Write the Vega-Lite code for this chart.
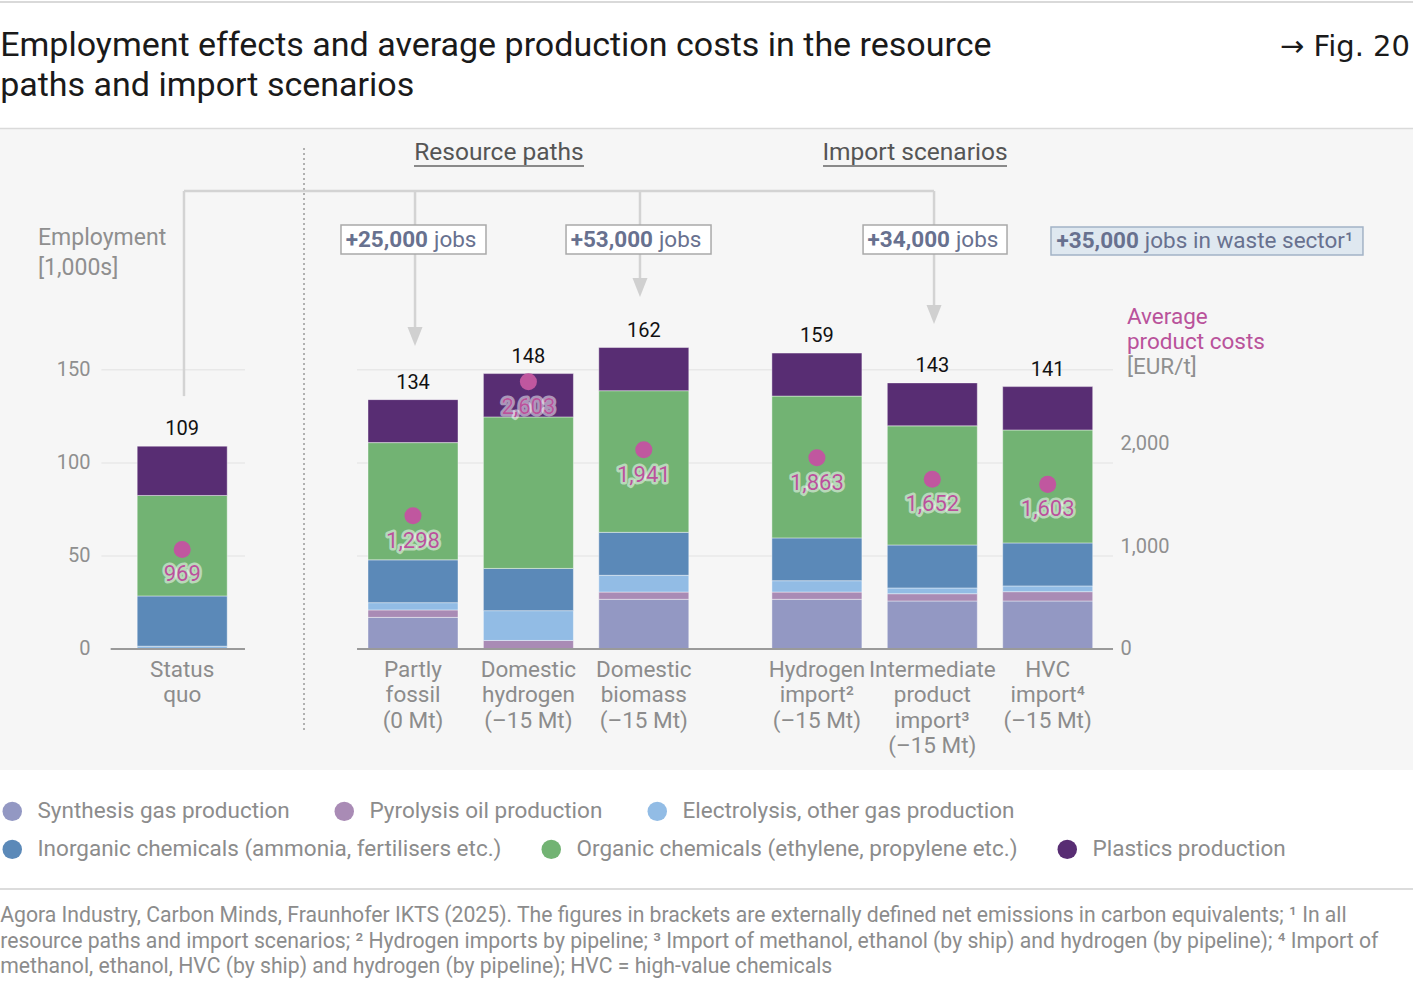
{
  "$schema": "https://vega.github.io/schema/vega-lite/v6.json",
  "width": 1413,
  "height": 642,
  "autosize": {"type": "none"},
  "padding": {"top": 128, "left": 0, "right": 0, "bottom": 217},
  "background": "#ffffff",
  "config": {
    "font": "Roboto",
    "view": {"fill": "#f6f6f6", "stroke": null},
    "text": {"font": "Roboto"}
  },
  "data": {"values": [{}]},
  "datasets": {
    "jobs": [
      {"scenario": "Status quo", "component": "Electrolysis, other gas production", "value": 1.5},
      {"scenario": "Status quo", "component": "Inorganic chemicals (ammonia, fertilisers etc.)", "value": 27},
      {"scenario": "Status quo", "component": "Organic chemicals (ethylene, propylene etc.)", "value": 54},
      {"scenario": "Status quo", "component": "Plastics production", "value": 26.5},
      {"scenario": "Partly fossil", "component": "Synthesis gas production", "value": 17},
      {"scenario": "Partly fossil", "component": "Pyrolysis oil production", "value": 4},
      {"scenario": "Partly fossil", "component": "Electrolysis, other gas production", "value": 3.9},
      {"scenario": "Partly fossil", "component": "Inorganic chemicals (ammonia, fertilisers etc.)", "value": 23},
      {"scenario": "Partly fossil", "component": "Organic chemicals (ethylene, propylene etc.)", "value": 63},
      {"scenario": "Partly fossil", "component": "Plastics production", "value": 23.1},
      {"scenario": "Domestic hydrogen", "component": "Pyrolysis oil production", "value": 4.6},
      {"scenario": "Domestic hydrogen", "component": "Electrolysis, other gas production", "value": 16},
      {"scenario": "Domestic hydrogen", "component": "Inorganic chemicals (ammonia, fertilisers etc.)", "value": 22.7},
      {"scenario": "Domestic hydrogen", "component": "Organic chemicals (ethylene, propylene etc.)", "value": 81.4},
      {"scenario": "Domestic hydrogen", "component": "Plastics production", "value": 23.3},
      {"scenario": "Domestic biomass", "component": "Synthesis gas production", "value": 26.7},
      {"scenario": "Domestic biomass", "component": "Pyrolysis oil production", "value": 3.9},
      {"scenario": "Domestic biomass", "component": "Electrolysis, other gas production", "value": 9},
      {"scenario": "Domestic biomass", "component": "Inorganic chemicals (ammonia, fertilisers etc.)", "value": 23.1},
      {"scenario": "Domestic biomass", "component": "Organic chemicals (ethylene, propylene etc.)", "value": 76.1},
      {"scenario": "Domestic biomass", "component": "Plastics production", "value": 23.2},
      {"scenario": "Hydrogen import", "component": "Synthesis gas production", "value": 26.7},
      {"scenario": "Hydrogen import", "component": "Pyrolysis oil production", "value": 3.9},
      {"scenario": "Hydrogen import", "component": "Electrolysis, other gas production", "value": 6.1},
      {"scenario": "Hydrogen import", "component": "Inorganic chemicals (ammonia, fertilisers etc.)", "value": 23},
      {"scenario": "Hydrogen import", "component": "Organic chemicals (ethylene, propylene etc.)", "value": 76.2},
      {"scenario": "Hydrogen import", "component": "Plastics production", "value": 23.1},
      {"scenario": "Intermediate product import", "component": "Synthesis gas production", "value": 25.8},
      {"scenario": "Intermediate product import", "component": "Pyrolysis oil production", "value": 3.9},
      {"scenario": "Intermediate product import", "component": "Electrolysis, other gas production", "value": 3.1},
      {"scenario": "Intermediate product import", "component": "Inorganic chemicals (ammonia, fertilisers etc.)", "value": 23.1},
      {"scenario": "Intermediate product import", "component": "Organic chemicals (ethylene, propylene etc.)", "value": 64},
      {"scenario": "Intermediate product import", "component": "Plastics production", "value": 23.1},
      {"scenario": "HVC import", "component": "Synthesis gas production", "value": 25.8},
      {"scenario": "HVC import", "component": "Pyrolysis oil production", "value": 5},
      {"scenario": "HVC import", "component": "Electrolysis, other gas production", "value": 3.1},
      {"scenario": "HVC import", "component": "Inorganic chemicals (ammonia, fertilisers etc.)", "value": 23.1},
      {"scenario": "HVC import", "component": "Organic chemicals (ethylene, propylene etc.)", "value": 60.7},
      {"scenario": "HVC import", "component": "Plastics production", "value": 23.3}
    ],
    "scen": [
      {"scenario": "Status quo", "total": 109, "cost": 969, "label": "Status|quo"},
      {"scenario": "Partly fossil", "total": 134, "cost": 1298, "label": "Partly|fossil|(0 Mt)"},
      {"scenario": "Domestic hydrogen", "total": 148, "cost": 2603, "label": "Domestic|hydrogen|(–15 Mt)"},
      {"scenario": "Domestic biomass", "total": 162, "cost": 1941, "label": "Domestic|biomass|(–15 Mt)"},
      {"scenario": "Hydrogen import", "total": 159, "cost": 1863, "label": "Hydrogen|import²|(–15 Mt)"},
      {"scenario": "Intermediate product import", "total": 143, "cost": 1652, "label": "Intermediate|product|import³|(–15 Mt)"},
      {"scenario": "HVC import", "total": 141, "cost": 1603, "label": "HVC|import⁴|(–15 Mt)"}
    ],
    "levels": [{"v": 50}, {"v": 100}, {"v": 150}]
  },
  "layer": [
    {
      "layer": [
        {
          "data": {"name": "levels"},
          "mark": {"type": "rule", "color": "#e8e8e8", "strokeWidth": 1.5},
          "encoding": {
            "x": {
              "datum": "s-5", "type": "nominal", "bandPosition": 0.1, "axis": null,
              "scale": {
                "type": "band",
                "domain": ["s-6", "s-5", "Status quo", "s-3", "s-2", "s-1", "Partly fossil", "s1", "Domestic hydrogen", "s3", "Domestic biomass", "s5", "s6", "Hydrogen import", "s8", "Intermediate product import", "s10", "HVC import", "s12", "s13", "s14", "s15", "s16"],
                "paddingInner": 0, "paddingOuter": 0.74437, "align": 0.4418, "round": false
              }
            },
            "x2": {"datum": "s-3", "bandPosition": 0.588},
            "y": {
              "field": "v", "type": "quantitative",
              "scale": {"domain": [-65.02, 279.96], "nice": false, "zero": false},
              "axis": {"orient": "left", "offset": -95, "zindex": 1, "values": [0, 50, 100, 150], "domain": false, "ticks": false, "grid": false, "labelPadding": 5, "labelFontSize": 20, "labelColor": "#8f8f8f", "labelFont": "Roboto", "title": null}
            }
          }
        },
        {
          "data": {"name": "levels"},
          "mark": {"type": "rule", "color": "#e8e8e8", "strokeWidth": 1.5},
          "encoding": {
            "y": {"field": "v", "type": "quantitative"},
            "x": {"datum": "s-1", "type": "nominal", "bandPosition": 0.53, "axis": null},
            "x2": {"datum": "s12", "bandPosition": 0.632}
          }
        },
        {"mark": {"type": "rule", "color": "#cccccc", "strokeWidth": 1.5}, "encoding": {"y": {"datum": 347.7, "type": "quantitative"}}},
        {"mark": {"type": "rule", "color": "#dadada", "strokeWidth": 1.5}, "encoding": {"y": {"datum": 279.7, "type": "quantitative"}}},
        {"mark": {"type": "rule", "color": "#d0d0d0", "strokeWidth": 1.5}, "encoding": {"y": {"datum": -129, "type": "quantitative"}}},
        {
          "mark": {"type": "rule", "color": "#9a9a9a", "strokeWidth": 1.5, "strokeDash": [2, 3]},
          "encoding": {
            "x": {"datum": "s-2", "type": "nominal", "bandPosition": 0.611, "axis": null},
            "y": {"datum": 269.2, "type": "quantitative"},
            "y2": {"datum": -43.5}
          }
        },
        {
          "mark": {"type": "rule", "color": "#d3d3d3", "strokeWidth": 2.5},
          "encoding": {
            "y": {"datum": 246.1, "type": "quantitative"},
            "x": {"datum": "Status quo", "type": "nominal", "bandPosition": 0.531, "axis": null},
            "x2": {"datum": "Intermediate product import", "bandPosition": 0.53}
          }
        },
        {
          "mark": {"type": "rule", "color": "#d3d3d3", "strokeWidth": 2.5},
          "encoding": {
            "x": {"datum": "Status quo", "type": "nominal", "bandPosition": 0.531, "axis": null},
            "y": {"datum": 246.1, "type": "quantitative"},
            "y2": {"datum": 135.9}
          }
        },
        {
          "mark": {"type": "rule", "color": "#d3d3d3", "strokeWidth": 2.5},
          "encoding": {
            "x": {"datum": "Partly fossil", "type": "nominal", "bandPosition": 0.535, "axis": null},
            "y": {"datum": 246.1, "type": "quantitative"},
            "y2": {"datum": 172}
          }
        },
        {
          "mark": {"type": "rule", "color": "#d3d3d3", "strokeWidth": 2.5},
          "encoding": {
            "x": {"datum": "Domestic biomass", "type": "nominal", "bandPosition": 0.434, "axis": null},
            "y": {"datum": 246.1, "type": "quantitative"},
            "y2": {"datum": 198.5}
          }
        },
        {
          "mark": {"type": "rule", "color": "#d3d3d3", "strokeWidth": 2.5},
          "encoding": {
            "x": {"datum": "Intermediate product import", "type": "nominal", "bandPosition": 0.53, "axis": null},
            "y": {"datum": 246.1, "type": "quantitative"},
            "y2": {"datum": 184}
          }
        },
        {
          "mark": {"type": "point", "shape": "M-0.79,-1L0.79,-1L0,1Z", "size": 361, "filled": true, "color": "#d0d0d0", "opacity": 1},
          "encoding": {
            "x": {"datum": "Partly fossil", "type": "nominal", "bandPosition": 0.535, "axis": null},
            "y": {"datum": 167.9, "type": "quantitative"}
          }
        },
        {
          "mark": {"type": "point", "shape": "M-0.79,-1L0.79,-1L0,1Z", "size": 361, "filled": true, "color": "#d0d0d0", "opacity": 1},
          "encoding": {
            "x": {"datum": "Domestic biomass", "type": "nominal", "bandPosition": 0.434, "axis": null},
            "y": {"datum": 194.3, "type": "quantitative"}
          }
        },
        {
          "mark": {"type": "point", "shape": "M-0.79,-1L0.79,-1L0,1Z", "size": 361, "filled": true, "color": "#d0d0d0", "opacity": 1},
          "encoding": {
            "x": {"datum": "Intermediate product import", "type": "nominal", "bandPosition": 0.53, "axis": null},
            "y": {"datum": 179.7, "type": "quantitative"}
          }
        },
        {
          "mark": {"type": "rect", "fill": "#ffffff", "stroke": "#a9a9a9", "strokeWidth": 1.5},
          "encoding": {
            "x": {"datum": "s-1", "type": "nominal", "bandPosition": 0.252, "axis": null},
            "x2": {"datum": "s1", "bandPosition": 0.765},
            "y": {"datum": 227.8, "type": "quantitative"},
            "y2": {"datum": 212.3}
          }
        },
        {
          "mark": {"type": "rect", "fill": "#ffffff", "stroke": "#a9a9a9", "strokeWidth": 1.5},
          "encoding": {
            "x": {"datum": "s3", "type": "nominal", "bandPosition": 0.152, "axis": null},
            "x2": {"datum": "s5", "bandPosition": 0.665},
            "y": {"datum": 227.8, "type": "quantitative"},
            "y2": {"datum": 212.3}
          }
        },
        {
          "mark": {"type": "rect", "fill": "#ffffff", "stroke": "#a9a9a9", "strokeWidth": 1.5},
          "encoding": {
            "x": {"datum": "s8", "type": "nominal", "bandPosition": 0.30, "axis": null},
            "x2": {"datum": "s10", "bandPosition": 0.795},
            "y": {"datum": 227.8, "type": "quantitative"},
            "y2": {"datum": 212.3}
          }
        },
        {
          "mark": {"type": "rect", "fill": "#dfe8f0", "stroke": "#a3b3c6", "strokeWidth": 1.5},
          "encoding": {
            "x": {"datum": "HVC import", "type": "nominal", "bandPosition": 0.557, "axis": null},
            "x2": {"datum": "s16", "bandPosition": 0.964},
            "y": {"datum": 226.8, "type": "quantitative"},
            "y2": {"datum": 211.7}
          }
        },
        {
          "data": {"name": "jobs"},
          "transform": [
            {"calculate": "indexof(['Synthesis gas production','Pyrolysis oil production','Electrolysis, other gas production','Inorganic chemicals (ammonia, fertilisers etc.)','Organic chemicals (ethylene, propylene etc.)','Plastics production'], datum.component)", "as": "ord"},
            {"stack": "value", "groupby": ["scenario"], "sort": [{"field": "ord", "order": "ascending"}], "as": ["y0", "y1"]},
            {"filter": "datum.ord < 3"}
          ],
          "mark": {"type": "bar", "width": {"band": 1.56}, "stroke": "#ffffff", "strokeWidth": 0.6, "strokeOpacity": 0.7},
          "encoding": {
            "x": {"field": "scenario", "type": "nominal", "axis": null},
            "y": {"field": "y0", "type": "quantitative"},
            "y2": {"field": "y1"},
            "fill": {
              "field": "component", "type": "nominal",
              "scale": {
                "domain": ["Synthesis gas production", "Pyrolysis oil production", "Electrolysis, other gas production"],
                "range": ["#9398c3", "#a98bb5", "#92bce5"]
              },
              "legend": {"orient": "none", "legendX": 1, "legendY": 672, "direction": "horizontal", "symbolType": "circle", "symbolSize": 380, "symbolStrokeWidth": 0, "labelFontSize": 22.5, "labelFont": "Roboto", "labelColor": "#8c8c8c", "labelOffset": 14, "columnPadding": 43, "title": null, "labelLimit": 700, "padding": 0}
            }
          }
        },
        {
          "data": {"name": "jobs"},
          "transform": [
            {"calculate": "indexof(['Synthesis gas production','Pyrolysis oil production','Electrolysis, other gas production','Inorganic chemicals (ammonia, fertilisers etc.)','Organic chemicals (ethylene, propylene etc.)','Plastics production'], datum.component)", "as": "ord"},
            {"stack": "value", "groupby": ["scenario"], "sort": [{"field": "ord", "order": "ascending"}], "as": ["y0", "y1"]},
            {"filter": "datum.ord >= 3"}
          ],
          "mark": {"type": "bar", "width": {"band": 1.56}, "stroke": "#ffffff", "strokeWidth": 0.6, "strokeOpacity": 0.7},
          "encoding": {
            "x": {"field": "scenario", "type": "nominal", "axis": null},
            "y": {"field": "y0", "type": "quantitative"},
            "y2": {"field": "y1"},
            "color": {
              "field": "component", "type": "nominal",
              "scale": {
                "domain": ["Inorganic chemicals (ammonia, fertilisers etc.)", "Organic chemicals (ethylene, propylene etc.)", "Plastics production"],
                "range": ["#5b89b8", "#72b373", "#582d73"]
              },
              "legend": {"orient": "none", "legendX": 1, "legendY": 710, "direction": "horizontal", "symbolType": "circle", "symbolSize": 380, "symbolStrokeWidth": 0, "labelFontSize": 22.5, "labelFont": "Roboto", "labelColor": "#8c8c8c", "labelOffset": 14, "columnPadding": 38, "title": null, "labelLimit": 700, "padding": 0}
            }
          }
        },
        {
          "mark": {"type": "rule", "color": "#9a9a9a", "strokeWidth": 2},
          "encoding": {
            "y": {"datum": 0, "type": "quantitative"},
            "x": {"datum": "s-5", "type": "nominal", "bandPosition": 0.26, "axis": null},
            "x2": {"datum": "s-3", "bandPosition": 0.588}
          }
        },
        {
          "mark": {"type": "rule", "color": "#9a9a9a", "strokeWidth": 2},
          "encoding": {
            "y": {"datum": 0, "type": "quantitative"},
            "x": {"datum": "s-1", "type": "nominal", "bandPosition": 0.53, "axis": null},
            "x2": {"datum": "s12", "bandPosition": 0.632}
          }
        },
        {
          "mark": {"type": "text", "text": "+25,000", "fontWeight": "bold", "fontSize": 22.5, "color": "#68718f", "align": "right", "baseline": "middle"},
          "encoding": {
            "x": {"datum": "Partly fossil", "type": "nominal", "bandPosition": 0.76, "axis": null},
            "y": {"datum": 219.8, "type": "quantitative"}
          }
        },
        {
          "mark": {"type": "text", "text": "jobs", "fontSize": 22.5, "color": "#68718f", "align": "left", "baseline": "middle"},
          "encoding": {
            "x": {"datum": "Partly fossil", "type": "nominal", "bandPosition": 0.864, "axis": null},
            "y": {"datum": 219.8, "type": "quantitative"}
          }
        },
        {
          "mark": {"type": "text", "text": "+53,000", "fontWeight": "bold", "fontSize": 22.5, "color": "#68718f", "align": "right", "baseline": "middle"},
          "encoding": {
            "x": {"datum": "Domestic biomass", "type": "nominal", "bandPosition": 0.659, "axis": null},
            "y": {"datum": 219.8, "type": "quantitative"}
          }
        },
        {
          "mark": {"type": "text", "text": "jobs", "fontSize": 22.5, "color": "#68718f", "align": "left", "baseline": "middle"},
          "encoding": {
            "x": {"datum": "Domestic biomass", "type": "nominal", "bandPosition": 0.763, "axis": null},
            "y": {"datum": 219.8, "type": "quantitative"}
          }
        },
        {
          "mark": {"type": "text", "text": "+34,000", "fontWeight": "bold", "fontSize": 22.5, "color": "#68718f", "align": "right", "baseline": "middle"},
          "encoding": {
            "x": {"datum": "Intermediate product import", "type": "nominal", "bandPosition": 0.806, "axis": null},
            "y": {"datum": 219.8, "type": "quantitative"}
          }
        },
        {
          "mark": {"type": "text", "text": "jobs", "fontSize": 22.5, "color": "#68718f", "align": "left", "baseline": "middle"},
          "encoding": {
            "x": {"datum": "Intermediate product import", "type": "nominal", "bandPosition": 0.91, "axis": null},
            "y": {"datum": 219.8, "type": "quantitative"}
          }
        },
        {
          "mark": {"type": "text", "text": "+35,000", "fontWeight": "bold", "fontSize": 22.5, "color": "#68718f", "align": "right", "baseline": "middle"},
          "encoding": {
            "x": {"datum": "s13", "type": "nominal", "bandPosition": 0.08, "axis": null},
            "y": {"datum": 219.3, "type": "quantitative"}
          }
        },
        {
          "mark": {"type": "text", "text": "jobs in waste sector¹", "fontSize": 22.5, "color": "#68718f", "align": "left", "baseline": "middle"},
          "encoding": {
            "x": {"datum": "s13", "type": "nominal", "bandPosition": 0.184, "axis": null},
            "y": {"datum": 219.3, "type": "quantitative"}
          }
        },
        {
          "mark": {"type": "text", "text": "Resource paths", "fontSize": 24.5, "color": "#555555", "align": "center", "baseline": "middle"},
          "encoding": {
            "x": {"datum": "s1", "type": "nominal", "bandPosition": 0.99, "axis": null},
            "y": {"datum": 266.5, "type": "quantitative"}
          }
        },
        {
          "mark": {"type": "rule", "color": "#666666", "strokeWidth": 1.5},
          "encoding": {
            "x": {"datum": "Partly fossil", "type": "nominal", "bandPosition": 0.517, "axis": null},
            "x2": {"datum": "s3", "bandPosition": 0.464},
            "y": {"datum": 259.6, "type": "quantitative"}
          }
        },
        {
          "mark": {"type": "text", "text": "Import scenarios", "fontSize": 24.5, "color": "#555555", "align": "center", "baseline": "middle"},
          "encoding": {
            "x": {"datum": "Intermediate product import", "type": "nominal", "bandPosition": 0.2, "axis": null},
            "y": {"datum": 266.5, "type": "quantitative"}
          }
        },
        {
          "mark": {"type": "rule", "color": "#666666", "strokeWidth": 1.5},
          "encoding": {
            "x": {"datum": "Hydrogen import", "type": "nominal", "bandPosition": 0.606, "axis": null},
            "x2": {"datum": "s10", "bandPosition": 0.795},
            "y": {"datum": 259.6, "type": "quantitative"}
          }
        },
        {
          "data": {"name": "scen"},
          "mark": {"type": "text", "fontSize": 20, "color": "#111111", "baseline": "middle", "dy": -17},
          "encoding": {
            "x": {"field": "scenario", "type": "nominal", "axis": null},
            "y": {"field": "total", "type": "quantitative"},
            "text": {"field": "total", "type": "quantitative"}
          }
        },
        {
          "data": {"name": "scen"},
          "mark": {"type": "text", "fontSize": 22.5, "color": "#8c8c8c", "baseline": "alphabetic", "align": "center", "lineBreak": "|", "lineHeight": 25.5},
          "encoding": {
            "x": {"field": "scenario", "type": "nominal", "axis": null},
            "y": {"datum": -15, "type": "quantitative"},
            "text": {"field": "label", "type": "nominal"}
          }
        },
        {
          "mark": {"type": "text", "text": "Employment|[1,000s]", "lineBreak": "|", "lineHeight": 30, "fontSize": 23, "color": "#8f8f8f", "align": "left", "baseline": "alphabetic"},
          "encoding": {
            "x": {"datum": "s-6", "type": "nominal", "bandPosition": 0.001, "axis": null},
            "y": {"datum": 217.1, "type": "quantitative"}
          }
        },
        {
          "mark": {"type": "text", "text": "Average|product costs", "lineBreak": "|", "lineHeight": 25, "fontSize": 22.5, "color": "#b9529b", "align": "left", "baseline": "alphabetic"},
          "encoding": {
            "x": {"datum": "s12", "type": "nominal", "bandPosition": 0.874, "axis": null},
            "y": {"datum": 174.6, "type": "quantitative"}
          }
        },
        {
          "mark": {"type": "text", "text": "[EUR/t]", "fontSize": 22.5, "color": "#8f8f8f", "align": "left", "baseline": "alphabetic"},
          "encoding": {
            "x": {"datum": "s12", "type": "nominal", "bandPosition": 0.874, "axis": null},
            "y": {"datum": 147.8, "type": "quantitative"}
          }
        },
        {
          "mark": {"type": "text", "text": "Employment effects and average production costs in the resource|paths and import scenarios", "lineBreak": "|", "lineHeight": 40, "fontSize": 34, "color": "#1a1a1a", "align": "left", "baseline": "alphabetic"},
          "encoding": {
            "x": {"datum": "s-6", "type": "nominal", "bandPosition": -0.655, "axis": null},
            "y": {"datum": 318.4, "type": "quantitative"}
          }
        },
        {
          "mark": {"type": "text", "text": "→ Fig. 20", "font": "DejaVu Sans", "fontSize": 29, "color": "#1a1a1a", "align": "right", "baseline": "alphabetic"},
          "encoding": {
            "x": {"datum": "s16", "type": "nominal", "bandPosition": 1.779, "axis": null},
            "y": {"datum": 318.9, "type": "quantitative"}
          }
        },
        {
          "mark": {"type": "text", "text": "Agora Industry, Carbon Minds, Fraunhofer IKTS (2025). The figures in brackets are externally defined net emissions in carbon equivalents; ¹ In all|resource paths and import scenarios; ² Hydrogen imports by pipeline; ³ Import of methanol, ethanol (by ship) and hydrogen (by pipeline); ⁴ Import of|methanol, ethanol, HVC (by ship) and hydrogen (by pipeline); HVC = high-value chemicals", "lineBreak": "|", "lineHeight": 25.5, "fontSize": 21.2, "color": "#8c8c8c", "align": "left", "baseline": "alphabetic"},
          "encoding": {
            "x": {"datum": "s-6", "type": "nominal", "bandPosition": -0.655, "axis": null},
            "y": {"datum": -146.7, "type": "quantitative"}
          }
        }
      ]
    },
    {
      "data": {"name": "scen"},
      "layer": [
        {
          "mark": {"type": "point", "filled": true, "size": 290, "color": "#c0579f", "opacity": 1},
          "encoding": {
            "x": {"field": "scenario", "type": "nominal", "axis": null},
            "y": {
              "field": "cost", "type": "quantitative",
              "scale": {"domain": [-1178.2, 5073], "nice": false, "zero": false},
              "axis": {"orient": "right", "offset": -300, "zindex": 1, "values": [0, 1000, 2000], "labelExpr": "format(datum.value, ',')", "domain": false, "ticks": false, "grid": false, "labelPadding": 7, "labelAlign": "left", "labelFontSize": 20, "labelColor": "#8f8f8f", "labelFont": "Roboto", "title": null}
            }
          }
        },
        {
          "mark": {"type": "text", "fontSize": 22, "dy": 25, "baseline": "middle", "fill": "#ffffff", "fillOpacity": 0.5, "stroke": "#ffffff", "strokeWidth": 5, "strokeOpacity": 0.5, "strokeJoin": "round"},
          "encoding": {
            "x": {"field": "scenario", "type": "nominal", "axis": null},
            "y": {"field": "cost", "type": "quantitative"},
            "text": {"field": "cost", "type": "quantitative", "format": ","}
          }
        },
        {
          "mark": {"type": "text", "fontSize": 22, "dy": 25, "baseline": "middle", "fill": "#b9529b"},
          "encoding": {
            "x": {"field": "scenario", "type": "nominal", "axis": null},
            "y": {"field": "cost", "type": "quantitative"},
            "text": {"field": "cost", "type": "quantitative", "format": ","}
          }
        }
      ]
    }
  ],
  "resolve": {"scale": {"y": "independent"}}
}
